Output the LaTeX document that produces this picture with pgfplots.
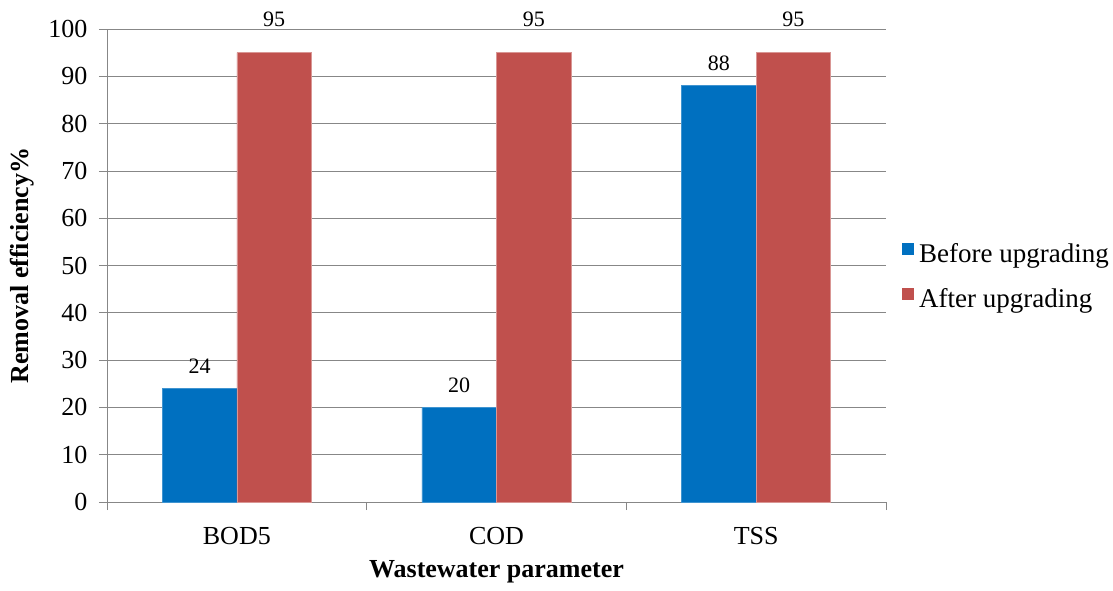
\documentclass[border=0pt]{standalone}
\usepackage{fontspec}
\IfFontExistsTF{LiberationSerif-Regular.ttf}{%
  \setmainfont{LiberationSerif}[Extension=.ttf,UprightFont=*-Regular,BoldFont=*-Bold,ItalicFont=*-Italic,BoldItalicFont=*-BoldItalic]}{%
  \setmainfont{Liberation Serif}}
\usepackage{pgfplots}
\pgfplotsset{compat=1.18}
\definecolor{barblue}{HTML}{0070C0}
\definecolor{barred}{HTML}{C0504D}
\definecolor{gridgray}{HTML}{878787}
\begin{document}
\begin{tikzpicture}
\path[use as bounding box] (-107pt,-88pt) rectangle (1006pt,502pt);
\begin{axis}[
  at={(0,0)}, anchor=south west,
  scale only axis, width=779pt, height=473pt,
  ybar=0pt, bar width=0.287,
  xmin=-0.5, xmax=2.5, ymin=0, ymax=100,
  xtick={-0.5,0.5,1.5,2.5}, xticklabels={},
  extra x ticks={0,1,2}, extra x tick labels={BOD5,COD,TSS},
  extra x tick style={major tick length=0pt, grid=none, xticklabel style={yshift=-22pt}},
  ytick={0,10,...,100},
  axis x line*=bottom, axis y line*=left,
  axis line style={gridgray, line width=0.8pt},
  tick style={gridgray, line width=0.8pt},
  tick align=outside,
  major tick length=8pt,
  ymajorgrids, xmajorgrids=false,
  grid style={gridgray, line width=0.8pt},
  /pgf/number format/assume math mode=true,
  every tick label/.append style={font=\rmfamily\fontsize{26}{30}\selectfont, black},
  yticklabel style={xshift=-8pt},
  xlabel={\textbf{Wastewater parameter}},
  ylabel={\textbf{Removal efficiency\%}},
  xlabel style={font=\fontsize{26}{30}\selectfont, at={(axis description cs:0.5,-0.148)}, anchor=center},
  ylabel style={font=\fontsize{26}{30}\selectfont, at={(axis description cs:-0.109,0.5)}, anchor=center},
  legend entries={Before upgrading, After upgrading},
  legend style={at={(axis description cs:1.0205,0.473)}, anchor=west, draw=none, fill=none,
    inner sep=0pt, font=\rmfamily\fontsize{27}{32}\selectfont,
    nodes={text height=19pt, text depth=6pt, inner sep=0pt},
    row sep=19pt, column sep=5pt, cells={anchor=west}},
  legend image code/.code={\fill[#1,draw=none] (0pt,1pt) rectangle (12pt,13pt);},
  nodes near coords,
  every node near coord/.append style={font=\rmfamily\fontsize{22}{26}\selectfont, black, anchor=center},
]
\addplot[fill=barblue, draw=barblue!75!white, line width=0.6pt,
  every node near coord/.append style={yshift=22pt}]
  coordinates {(0,24) (1,20) (2,88)};
\addplot[fill=barred, draw=barred!60!white, line width=0.6pt,
  every node near coord/.append style={yshift=33pt}]
  coordinates {(0,95) (1,95) (2,95)};
\end{axis}
\end{tikzpicture}
\end{document}
